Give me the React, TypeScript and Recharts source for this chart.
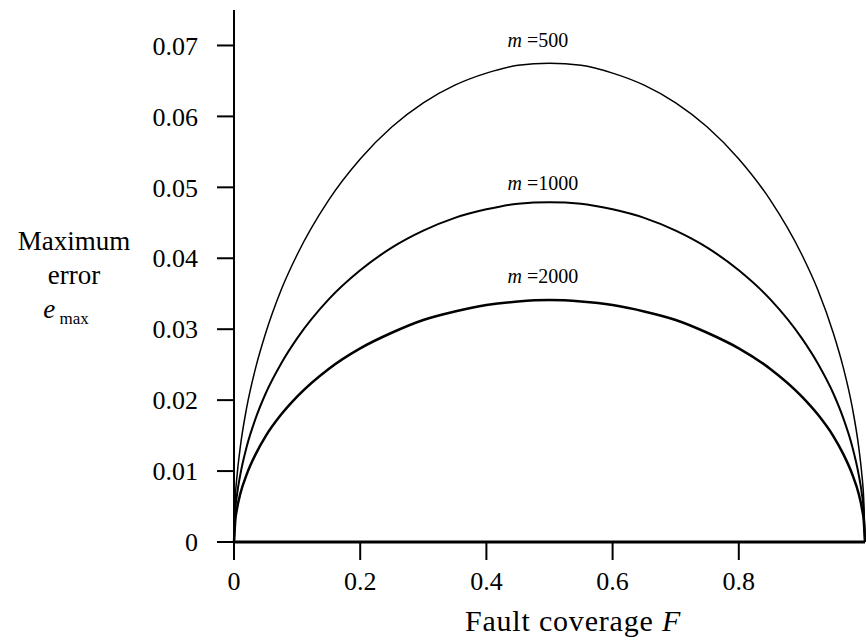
import { LineChart, Line, XAxis, YAxis, LabelList } from "recharts";

// fault coverage F
const COVERAGE = [
  0, 0.002, 0.005, 0.01, 0.02, 0.035, 0.05, 0.075, 0.1, 0.15, 0.2, 0.25, 0.3, 0.35, 0.4, 0.45, 0.5,
  0.55, 0.6, 0.65, 0.7, 0.75, 0.8, 0.85, 0.9, 0.925, 0.95, 0.965, 0.98, 0.99, 0.995, 0.998, 1,
];

// maximum error e_max
const M500 = [
  0, 0.006, 0.0095, 0.0134, 0.0189, 0.0248, 0.0294, 0.0356, 0.0405, 0.0482, 0.054, 0.0585, 0.0619, 0.0644, 0.0661, 0.0672, 0.0675,
  0.0672, 0.0661, 0.0644, 0.0619, 0.0585, 0.054, 0.0482, 0.0405, 0.0356, 0.0294, 0.0248, 0.0189, 0.0134, 0.0095, 0.006, 0,
];
const M1000 = [
  0, 0.0043, 0.0068, 0.0095, 0.0134, 0.0176, 0.0209, 0.0252, 0.0287, 0.0342, 0.0383, 0.0415, 0.0439, 0.0457, 0.0469, 0.0477, 0.0479,
  0.0477, 0.0469, 0.0457, 0.0439, 0.0415, 0.0383, 0.0342, 0.0287, 0.0252, 0.0209, 0.0176, 0.0134, 0.0095, 0.0068, 0.0043, 0,
];
const M2000 = [
  0, 0.003, 0.0048, 0.0068, 0.0095, 0.0125, 0.0149, 0.018, 0.0205, 0.0244, 0.0273, 0.0295, 0.0313, 0.0325, 0.0334, 0.0339, 0.0341,
  0.0339, 0.0334, 0.0325, 0.0313, 0.0295, 0.0273, 0.0244, 0.0205, 0.018, 0.0149, 0.0125, 0.0095, 0.0068, 0.0048, 0.003, 0,
];

const X_TICKS = [0, 0.2, 0.4, 0.6, 0.8];
const Y_TICKS = [0, 0.01, 0.02, 0.03, 0.04, 0.05, 0.06, 0.07];

const PEAK = 16; // index of F = 0.5, where the m labels sit

const data = COVERAGE.map((f, i) => ({ f, m500: M500[i], m1000: M1000[i], m2000: M2000[i] }));

const FONT = "'Liberation Serif', 'Times New Roman', serif";

function curveLabel(m: string, lift: number) {
  return (props: any) => {
    if (props.index !== PEAK) return null;
    return (
      <text x={props.x - 42} y={props.y - lift} fontFamily={FONT} fontSize={20} fill="#000">
        <tspan fontStyle="italic">m</tspan>
        <tspan> ={m}</tspan>
      </text>
    );
  };
}

const fmtY = (v: number) => (v === 0 ? "0" : v.toFixed(2));
const fmtX = (v: number) => (v === 0 ? "0" : String(v));

export default function App() {
  const tick = { fontFamily: FONT, fontSize: 26, fill: "#000" };
  return (
    <div style={{ position: "absolute", left: 0, top: 0, width: 866, height: 642, background: "#fff", fontFamily: FONT }}>
      <LineChart width={866} height={642} data={data} margin={{ top: 10, right: 1, left: 134, bottom: 40 }}>
        <XAxis
          dataKey="f" type="number" domain={[0, 1]} ticks={X_TICKS} tickFormatter={fmtX}
          height={60} tick={tick} tickSize={18} tickMargin={12}
          axisLine={{ stroke: "#000", strokeWidth: 3 }} tickLine={{ stroke: "#000", strokeWidth: 2 }}
        />
        <YAxis
          type="number" domain={[0, 0.075]} ticks={Y_TICKS} tickFormatter={fmtY}
          width={100} tick={tick} tickSize={17} tickMargin={19}
          axisLine={{ stroke: "#000", strokeWidth: 2 }} tickLine={{ stroke: "#000", strokeWidth: 2 }}
        />
        <Line type="monotone" dataKey="m500" stroke="#000" strokeWidth={1.5} dot={false} isAnimationActive={false}>
          <LabelList dataKey="m500" content={curveLabel("500", 16)} />
        </Line>
        <Line type="monotone" dataKey="m1000" stroke="#000" strokeWidth={2} dot={false} isAnimationActive={false}>
          <LabelList dataKey="m1000" content={curveLabel("1000", 12)} />
        </Line>
        <Line type="monotone" dataKey="m2000" stroke="#000" strokeWidth={2.5} dot={false} isAnimationActive={false}>
          <LabelList dataKey="m2000" content={curveLabel("2000", 17)} />
        </Line>
      </LineChart>

      <div style={{ position: "absolute", left: 0, top: 224, width: 148, textAlign: "center", fontSize: 27, lineHeight: "34px", color: "#000" }}>
        <div>Maximum</div>
        <div>error</div>
        <div style={{ paddingRight: 16 }}><i>e</i><sub style={{ fontSize: 17 }}> max</sub></div>
      </div>
      <div style={{ position: "absolute", left: 0, top: 604, width: 1146, textAlign: "center", fontSize: 30, letterSpacing: 0.8, lineHeight: "34px", color: "#000" }}>
        Fault coverage <i>F</i>
      </div>
    </div>
  );
}
